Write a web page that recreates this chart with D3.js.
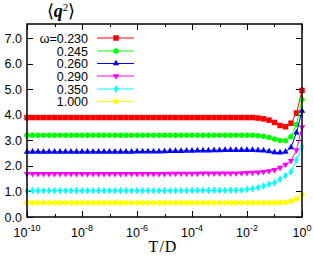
<!DOCTYPE html>
<html>
<head>
<meta charset="utf-8">
<script src="https://cdn.jsdelivr.net/npm/d3@7"></script>
<style>
  body { margin: 0; background: #fff; }
  svg { display: block; }
</style>
</head>
<body>
<svg id="main-svg"></svg>
<script>
// --- data ---
// x positions as log10(T/D)
const logT = [-10, -9.8, -9.6, -9.4, -9.2, -9, -8.8, -8.6, -8.4, -8.2,
  -8, -7.8, -7.6, -7.4, -7.2, -7, -6.8, -6.6, -6.4, -6.2,
  -6, -5.8, -5.6, -5.4, -5.2, -5, -4.8, -4.6, -4.4, -4.2,
  -4, -3.8, -3.6, -3.4, -3.2, -3, -2.8, -2.6, -2.4, -2.2,
  -2, -1.8, -1.6, -1.4, -1.2, -1, -0.8, -0.6, -0.4, -0.2, 0];

const omegaLabels = ["\u03c9=0.230", "0.245", "0.260", "0.290", "0.350", "1.000"];
const colors = ["#ff0000", "#00ff00", "#0000ff", "#ff00ff", "#00ffff", "#ffff00"];
const markers = ["square", "circle", "triangle", "triangleDown", "diamond", "circle"];

const q230 = [3.89, 3.89, 3.89, 3.89, 3.89, 3.89, 3.89, 3.89, 3.89, 3.89,
  3.89, 3.89, 3.89, 3.89, 3.89, 3.89, 3.89, 3.89, 3.89, 3.89,
  3.89, 3.89, 3.89, 3.89, 3.89, 3.89, 3.89, 3.89, 3.89, 3.89,
  3.89, 3.89, 3.89, 3.89, 3.89, 3.89, 3.89, 3.89, 3.89, 3.89,
  3.89, 3.89, 3.87, 3.84, 3.79, 3.70, 3.58, 3.53, 3.67, 4.07, 4.95];
const q245 = [3.20, 3.20, 3.20, 3.20, 3.20, 3.20, 3.20, 3.20, 3.20, 3.20,
  3.20, 3.20, 3.20, 3.20, 3.20, 3.20, 3.20, 3.20, 3.20, 3.20,
  3.20, 3.20, 3.20, 3.20, 3.20, 3.20, 3.20, 3.20, 3.20, 3.20,
  3.20, 3.20, 3.20, 3.20, 3.20, 3.20, 3.20, 3.20, 3.20, 3.20,
  3.20, 3.20, 3.18, 3.16, 3.11, 3.05, 2.99, 2.98, 3.14, 3.62, 4.60];
const q260 = [2.55, 2.55, 2.55, 2.55, 2.55, 2.55, 2.55, 2.55, 2.55, 2.55,
  2.55, 2.55, 2.55, 2.55, 2.55, 2.55, 2.55, 2.55, 2.55, 2.55,
  2.56, 2.56, 2.56, 2.56, 2.56, 2.57, 2.58, 2.58, 2.58, 2.59,
  2.59, 2.60, 2.60, 2.60, 2.61, 2.61, 2.62, 2.62, 2.62, 2.62,
  2.62, 2.62, 2.61, 2.60, 2.57, 2.53, 2.52, 2.55, 2.72, 3.30, 4.15];
const q290 = [1.69, 1.69, 1.69, 1.69, 1.69, 1.69, 1.69, 1.69, 1.69, 1.69,
  1.69, 1.69, 1.69, 1.69, 1.69, 1.69, 1.69, 1.69, 1.69, 1.69,
  1.69, 1.69, 1.69, 1.69, 1.69, 1.69, 1.70, 1.70, 1.70, 1.70,
  1.70, 1.70, 1.71, 1.71, 1.71, 1.71, 1.71, 1.71, 1.71, 1.72,
  1.73, 1.74, 1.75, 1.77, 1.80, 1.84, 1.93, 2.05, 2.20, 2.62, 3.52];
const q350 = [1.03, 1.03, 1.03, 1.03, 1.03, 1.03, 1.03, 1.03, 1.03, 1.03,
  1.03, 1.03, 1.03, 1.03, 1.03, 1.03, 1.03, 1.03, 1.03, 1.03,
  1.03, 1.03, 1.03, 1.03, 1.03, 1.03, 1.03, 1.03, 1.03, 1.03,
  1.04, 1.04, 1.04, 1.04, 1.04, 1.04, 1.04, 1.05, 1.05, 1.05,
  1.08, 1.11, 1.15, 1.21, 1.28, 1.34, 1.48, 1.62, 1.77, 2.23, 2.75];
const q1000 = [0.56, 0.56, 0.56, 0.56, 0.56, 0.56, 0.56, 0.56, 0.56, 0.56,
  0.56, 0.56, 0.56, 0.56, 0.56, 0.56, 0.56, 0.56, 0.56, 0.56,
  0.56, 0.56, 0.56, 0.56, 0.56, 0.56, 0.56, 0.56, 0.56, 0.56,
  0.56, 0.56, 0.56, 0.56, 0.56, 0.56, 0.56, 0.56, 0.56, 0.56,
  0.56, 0.56, 0.56, 0.56, 0.56, 0.56, 0.57, 0.58, 0.62, 0.70, 0.87];

const seriesValues = [q230, q245, q260, q290, q350, q1000];
const yTicks = [0, 1, 2, 3, 4, 5, 6, 7];
const xMajorExp = [-10, -8, -6, -4, -2, 0];
const xMinorExp = [-9, -7, -5, -3, -1];

// --- setup ---
const width = 314, height = 256;
const svg = d3.select("#main-svg").attr("width", width).attr("height", height);

const plot = {left: 27, right: 302, top: 24, bottom: 217};

const x = d3.scaleLog().domain([1e-10, 1]).range([plot.left, plot.right]);
const y = d3.scaleLinear().domain([0, 7.55]).range([plot.bottom, plot.top]);

const sansFont = "'Liberation Sans', Arial, sans-serif";
const serifFont = "'Liberation Serif', 'Times New Roman', serif";

// ticks (inward, mirrored)
const tg = svg.append("g").attr("stroke", "#000").attr("stroke-width", 1);
yTicks.forEach(v => {
  const yy = Math.round(y(v)) + 0.5;
  tg.append("line").attr("x1", plot.left).attr("x2", plot.left + 6).attr("y1", yy).attr("y2", yy);
  tg.append("line").attr("x1", plot.right).attr("x2", plot.right - 6).attr("y1", yy).attr("y2", yy);
});
xMajorExp.forEach(e => {
  const xx = Math.round(x(Math.pow(10, e))) + 0.5;
  tg.append("line").attr("x1", xx).attr("x2", xx).attr("y1", plot.bottom).attr("y2", plot.bottom - 6);
  tg.append("line").attr("x1", xx).attr("x2", xx).attr("y1", plot.top).attr("y2", plot.top + 6);
});
xMinorExp.forEach(e => {
  const xx = Math.round(x(Math.pow(10, e))) + 0.5;
  tg.append("line").attr("x1", xx).attr("x2", xx).attr("y1", plot.bottom).attr("y2", plot.bottom - 3);
  tg.append("line").attr("x1", xx).attr("x2", xx).attr("y1", plot.top).attr("y2", plot.top + 3);
});

// y tick labels
svg.append("g").selectAll("text")
  .data(yTicks).enter().append("text")
  .attr("x", 22)
  .attr("y", d => y(d) + 4.5)
  .attr("text-anchor", "end")
  .attr("font-family", sansFont)
  .attr("font-size", 12.5)
  .text(d => d.toFixed(1));

// x tick labels 10^e
const xl = svg.append("g").selectAll("text")
  .data(xMajorExp).enter().append("text")
  .attr("x", d => x(Math.pow(10, d)))
  .attr("y", 237)
  .attr("text-anchor", "middle")
  .attr("font-family", sansFont)
  .attr("font-size", 12.5);
xl.append("tspan").text("10");
xl.append("tspan").attr("dy", -6).attr("font-size", 9).text(d => d === 0 ? "0" : "-" + Math.abs(d));

// axis title
svg.append("text")
  .attr("x", 163).attr("y", 252)
  .attr("text-anchor", "middle")
  .attr("font-family", serifFont)
  .attr("font-size", 16)
  .attr("letter-spacing", 1)
  .text("T/D");

// y title <q^2>
const yt = svg.append("text")
  .attr("x", 61).attr("y", 17)
  .attr("text-anchor", "middle")
  .attr("font-family", serifFont)
  .attr("font-size", 18);
yt.append("tspan").text("\u27e8");
yt.append("tspan").attr("font-style", "italic").attr("font-weight", "bold").text("q");
yt.append("tspan").attr("dy", -6).attr("font-size", 11).text("2");
yt.append("tspan").attr("dy", 6).text("\u27e9");

// marker symbols
function markerPath(kind) {
  const map = {
    square: d3.symbol(d3.symbolSquare, 30),
    circle: d3.symbol(d3.symbolCircle, 24),
    triangle: d3.symbol(d3.symbolTriangle, 18),
    diamond: d3.symbol(d3.symbolDiamond, 18)
  };
  if (kind === "triangleDown") return d3.symbol(d3.symbolTriangle, 18)();
  return map[kind]();
}

const line = d3.line()
  .x(d => x(Math.pow(10, d[0])))
  .y(d => y(d[1]));

seriesValues.forEach((vals, si) => {
  const pts = logT.map((t, i) => [t, vals[i]]);
  const g = svg.append("g");
  g.append("path")
    .datum(pts)
    .attr("d", line)
    .attr("fill", "none")
    .attr("stroke", colors[si])
    .attr("stroke-width", 1);
  g.selectAll("path.m")
    .data(pts).enter().append("path")
    .attr("class", "m")
    .attr("d", markerPath(markers[si]))
    .attr("transform", d => `translate(${x(Math.pow(10, d[0]))},${y(d[1])})` + (markers[si] === "triangleDown" ? " rotate(180)" : ""))
    .attr("fill", colors[si]);
});

// legend
const legendY = [38, 51, 63.5, 76, 89, 101.5];
const lg = svg.append("g");
omegaLabels.forEach((lab, i) => {
  lg.append("text")
    .attr("x", 88).attr("y", legendY[i] + 4.5)
    .attr("text-anchor", "end")
    .attr("font-family", sansFont)
    .attr("font-size", 12.5)
    .text(lab);
  lg.append("line")
    .attr("x1", 97).attr("x2", 134)
    .attr("y1", legendY[i]).attr("y2", legendY[i])
    .attr("stroke", colors[i]).attr("stroke-width", 1);
  lg.append("path")
    .attr("d", markerPath(markers[i]))
    .attr("transform", `translate(116,${legendY[i]})` + (markers[i] === "triangleDown" ? " rotate(180)" : ""))
    .attr("fill", colors[i]);
});

// frame
svg.append("rect")
  .attr("x", plot.left).attr("y", plot.top)
  .attr("width", plot.right - plot.left)
  .attr("height", plot.bottom - plot.top)
  .attr("fill", "none")
  .attr("stroke", "#000")
  .attr("stroke-width", 1.5);
</script>
</body>
</html>
